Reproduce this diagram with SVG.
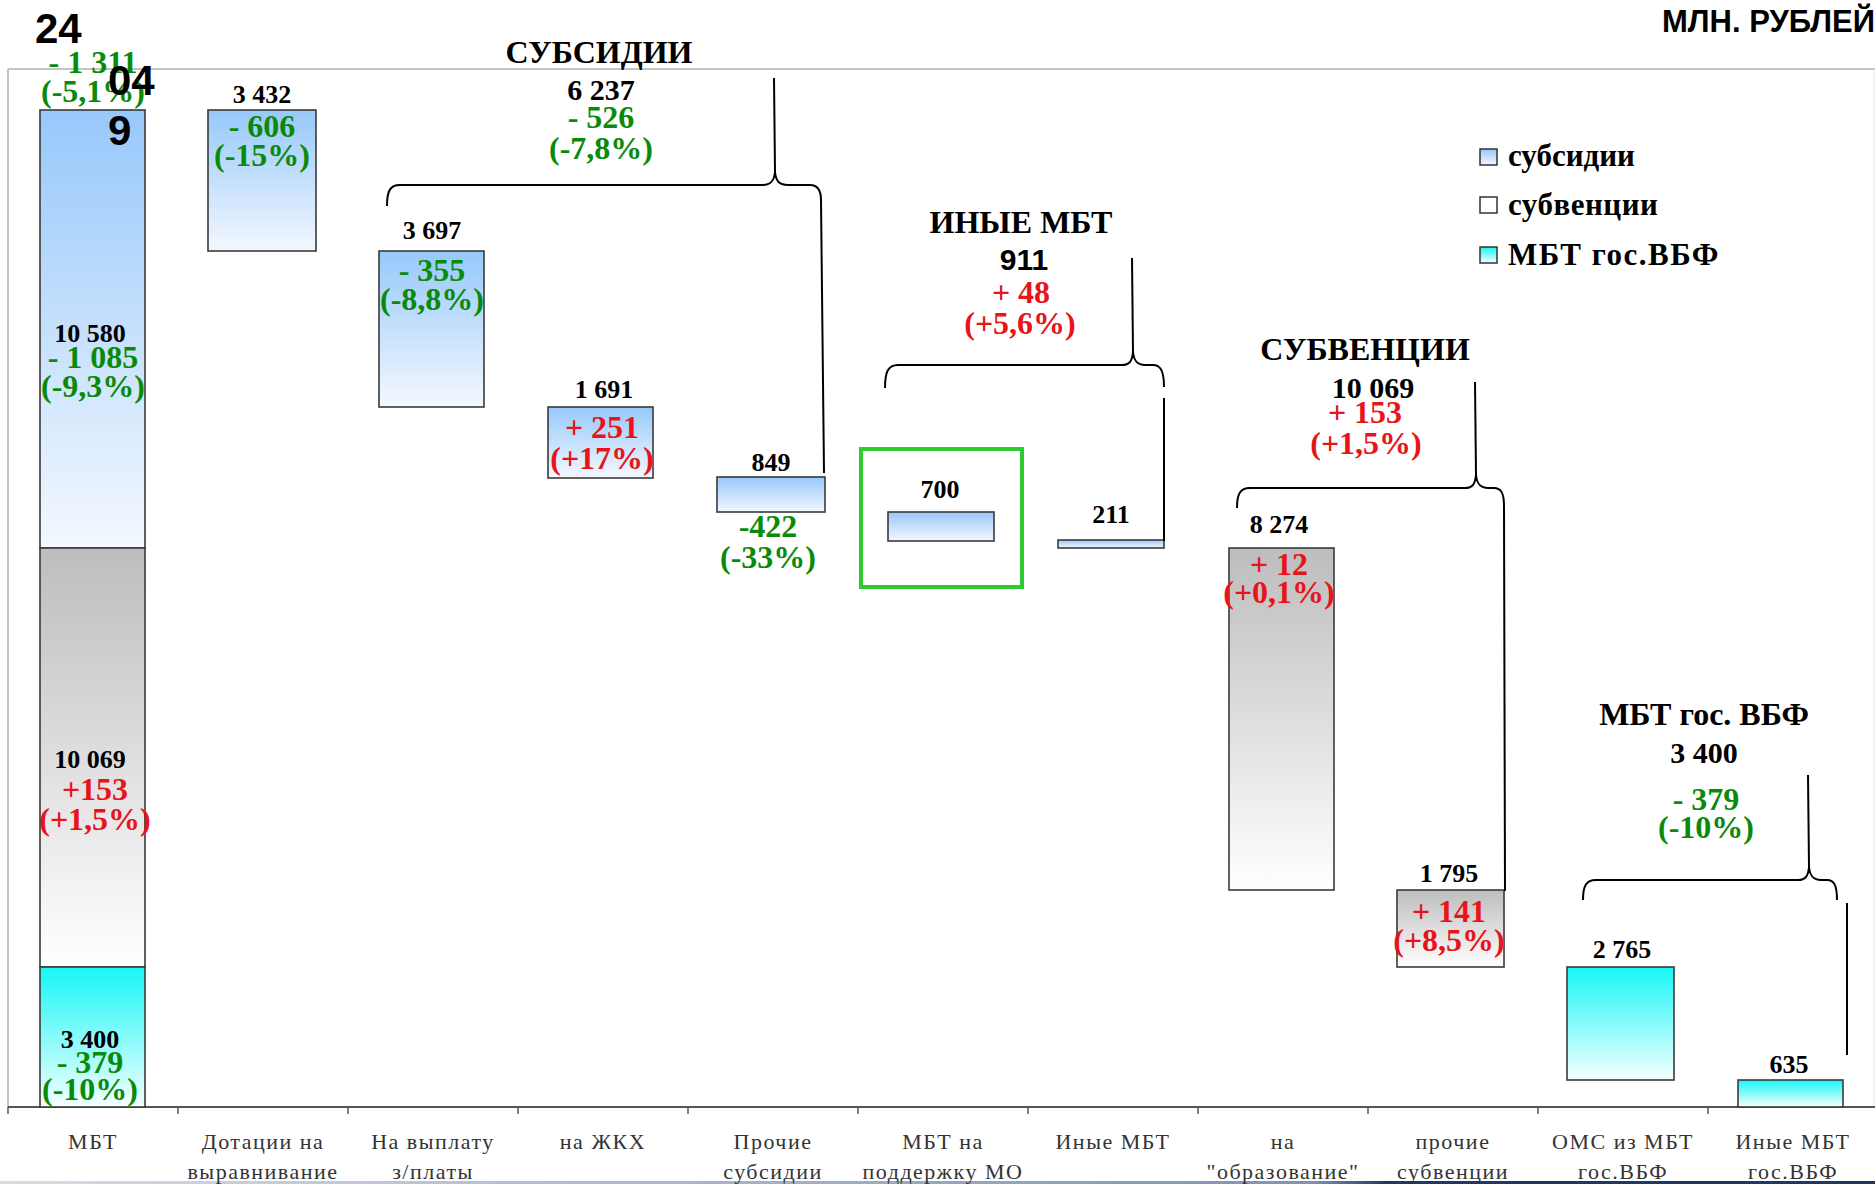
<svg xmlns="http://www.w3.org/2000/svg" width="1875" height="1184" viewBox="0 0 1875 1184">
<defs>
<linearGradient id="gBlue" x1="0" y1="0" x2="0" y2="1"><stop offset="0" stop-color="#97c8fa"/><stop offset="1" stop-color="#f4f8ff"/></linearGradient>
<linearGradient id="gGray" x1="0" y1="0" x2="0" y2="1"><stop offset="0" stop-color="#bdbdbd"/><stop offset="1" stop-color="#ffffff"/></linearGradient>
<linearGradient id="gCyan" x1="0" y1="0" x2="0" y2="1"><stop offset="0" stop-color="#18f6f6"/><stop offset="1" stop-color="#f6ffff"/></linearGradient>
<linearGradient id="gBottom" x1="0" y1="0" x2="1" y2="0"><stop offset="0" stop-color="#d6dce6"/><stop offset="0.7" stop-color="#7f93b3"/><stop offset="0.74" stop-color="#1f3864"/><stop offset="1" stop-color="#1f3864"/></linearGradient>
<style>
.bar{stroke:#3a3a3a;stroke-width:1.6}
.n{font-family:"Liberation Serif",serif;font-weight:bold;font-size:26px;fill:#000;text-anchor:middle}
.g{font-family:"Liberation Serif",serif;font-weight:bold;font-size:32px;fill:#0a8a0a;text-anchor:middle}
.r{font-family:"Liberation Serif",serif;font-weight:bold;font-size:32px;fill:#e8141a;text-anchor:middle}
.h{font-family:"Liberation Serif",serif;font-weight:bold;font-size:32px;fill:#000;text-anchor:middle}
.t{font-family:"Liberation Serif",serif;font-weight:bold;font-size:30px;fill:#000;text-anchor:middle}
.s{font-family:"Liberation Sans",Arial,sans-serif;font-weight:bold;fill:#000}
.c{font-family:"Liberation Serif",serif;font-size:22px;fill:#333;text-anchor:middle;letter-spacing:1.5px}
.lg{font-family:"Liberation Serif",serif;font-weight:bold;font-size:31px;fill:#000}
.br{fill:none;stroke:#000;stroke-width:2}
</style>
</defs>
<rect width="1875" height="1184" fill="#fff"/>
<g id="frame">
<line x1="8" y1="69" x2="1875" y2="69" stroke="#c4c4c4" stroke-width="2"/>
<line x1="8" y1="69" x2="8" y2="1107" stroke="#c4c4c4" stroke-width="2"/>
<line x1="1874" y1="69" x2="1874" y2="1107" stroke="#e6e6e6" stroke-width="1"/>
<line x1="8" y1="1107" x2="1875" y2="1107" stroke="#555" stroke-width="2"/>
<path d="M8,1107V1114M178,1107V1114M348,1107V1114M518,1107V1114M688,1107V1114M858,1107V1114M1028,1107V1114M1198,1107V1114M1368,1107V1114M1538,1107V1114M1708,1107V1114" stroke="#555" stroke-width="1.5"/>
<rect x="0" y="1181" width="1875" height="3" fill="url(#gBottom)"/>
</g>
<text class="s" x="35" y="43" font-size="42">24</text>
<text class="s" x="1662" y="32" font-size="31">МЛН. РУБЛЕЙ</text>
<g id="node-mbt">
<rect class="bar" x="40" y="110" width="105" height="438" fill="url(#gBlue)"/>
<rect class="bar" x="40" y="548" width="105" height="419" fill="url(#gGray)"/>
<rect class="bar" x="40" y="967" width="105" height="140" fill="url(#gCyan)"/>
<text class="g" x="93" y="73">- 1 311</text>
<text class="g" x="93" y="102">(-5,1%)</text>
<text class="s" x="108" y="95" font-size="42">04</text>
<text class="s" x="108" y="145" font-size="42">9</text>
<text class="n" x="90" y="342">10 580</text>
<text class="g" x="93" y="368">- 1 085</text>
<text class="g" x="93" y="397">(-9,3%)</text>
<text class="n" x="90" y="768">10 069</text>
<text class="r" x="95" y="800">+153</text>
<text class="r" x="95" y="830">(+1,5%)</text>
<text class="n" x="90" y="1048">3 400</text>
<text class="g" x="90" y="1073">- 379</text>
<text class="g" x="90" y="1100">(-10%)</text>
</g>
<g id="node-dotacii">
<rect class="bar" x="208" y="110" width="108" height="141" fill="url(#gBlue)"/>
<text class="n" x="262" y="103">3 432</text>
<text class="g" x="262" y="137">- 606</text>
<text class="g" x="262" y="166">(-15%)</text>
</g>
<g id="node-zplaty">
<rect class="bar" x="379" y="251" width="105" height="156" fill="url(#gBlue)"/>
<text class="n" x="432" y="239">3 697</text>
<text class="g" x="432" y="281">- 355</text>
<text class="g" x="432" y="310">(-8,8%)</text>
</g>
<g id="node-zhkh">
<rect class="bar" x="548" y="407" width="105" height="71" fill="url(#gBlue)"/>
<text class="n" x="604" y="398">1 691</text>
<text class="r" x="602" y="438">+ 251</text>
<text class="r" x="602" y="469">(+17%)</text>
</g>
<g id="node-prochie-subsidii">
<rect class="bar" x="717" y="477" width="108" height="35" fill="url(#gBlue)"/>
<text class="n" x="771" y="471">849</text>
<text class="g" x="768" y="537">-422</text>
<text class="g" x="768" y="568">(-33%)</text>
</g>
<g id="node-podderzhka">
<rect x="861" y="449" width="161" height="138" fill="none" stroke="#2ecc2e" stroke-width="4"/>
<rect class="bar" x="888" y="512" width="106" height="29" fill="url(#gBlue)"/>
<text class="n" x="940" y="498">700</text>
</g>
<g id="node-inye-mbt">
<rect class="bar" x="1058" y="540" width="106" height="8" fill="url(#gBlue)"/>
<text class="n" x="1111" y="523">211</text>
</g>
<g id="node-obrazovanie">
<rect class="bar" x="1229" y="548" width="105" height="342" fill="url(#gGray)"/>
<text class="n" x="1279" y="533">8 274</text>
<text class="r" x="1279" y="575">+ 12</text>
<text class="r" x="1279" y="603">(+0,1%)</text>
</g>
<g id="node-prochie-subvencii">
<rect class="bar" x="1397" y="890" width="107" height="77" fill="url(#gGray)"/>
<text class="n" x="1449" y="882">1 795</text>
<text class="r" x="1449" y="922">+ 141</text>
<text class="r" x="1449" y="951">(+8,5%)</text>
</g>
<g id="node-oms">
<rect class="bar" x="1567" y="967" width="107" height="113" fill="url(#gCyan)"/>
<text class="n" x="1622" y="958">2 765</text>
</g>
<g id="node-inye-vbf">
<rect class="bar" x="1738" y="1080" width="105" height="27" fill="url(#gCyan)"/>
<text class="n" x="1789" y="1073">635</text>
</g>
<g id="head-subsidii">
<text class="h" x="599" y="63">СУБСИДИИ</text>
<text class="t" x="601" y="100">6 237</text>
<text class="g" x="601" y="128">- 526</text>
<text class="g" x="601" y="159">(-7,8%)</text>
</g>
<g id="head-inye">
<text class="h" x="1021" y="233">ИНЫЕ МБТ</text>
<text class="s" x="1024" y="270" font-size="30" text-anchor="middle">911</text>
<text class="r" x="1021" y="303">+ 48</text>
<text class="r" x="1020" y="334">(+5,6%)</text>
</g>
<g id="head-subvencii">
<text class="h" x="1365" y="360">СУБВЕНЦИИ</text>
<text class="t" x="1373" y="398">10 069</text>
<text class="r" x="1365" y="423">+ 153</text>
<text class="r" x="1366" y="454">(+1,5%)</text>
</g>
<g id="head-vbf">
<text class="h" x="1704" y="725">МБТ гос. ВБФ</text>
<text class="t" x="1704" y="763">3 400</text>
<text class="g" x="1706" y="810">- 379</text>
<text class="g" x="1706" y="838">(-10%)</text>
</g>
<g id="connectors">
<path class="br" d="M387,206 C387,191 390,185 400,185 L763,185 C770,185 774,182 775,172 C776,182 780,185 788,185 L810,185 C817,185 821,190 821,200 L824,473"/>
<path class="br" d="M775,172 L774,78"/>
<path class="br" d="M885,388 C885,372 888,365 898,365 L1122,365 C1129,365 1132,362 1133,352 C1134,362 1138,365 1145,365 L1153,365 C1160,365 1164,370 1164,387"/>
<path class="br" d="M1133,352 L1132,258"/>
<path class="br" d="M1164,398 L1164,541"/>
<path class="br" d="M1237,508 C1237,494 1240,488 1250,488 L1465,488 C1472,488 1475,485 1476,475 C1477,485 1481,488 1488,488 L1494,488 C1501,488 1504,493 1504,506 L1505,891"/>
<path class="br" d="M1476,475 L1475,382"/>
<path class="br" d="M1583,900 C1583,886 1586,880 1596,880 L1798,880 C1805,880 1808,877 1809,867 C1810,877 1814,880 1821,880 L1827,880 C1834,880 1837,885 1837,900"/>
<path class="br" d="M1809,867 L1808,775"/>
<path class="br" d="M1847,903 L1847,1055"/>
</g>
<g id="legend">
<rect x="1480" y="149" width="17" height="16" fill="url(#gBlue)" stroke="#333" stroke-width="1.5"/>
<text class="lg" x="1508" y="166">субсидии</text>
<rect x="1480" y="197" width="17" height="16" fill="#fff" stroke="#333" stroke-width="1.5"/>
<text class="lg" x="1508" y="215" letter-spacing="0.5">субвенции</text>
<rect x="1480" y="247" width="17" height="16" fill="url(#gCyan)" stroke="#333" stroke-width="1.5"/>
<text class="lg" x="1508" y="265" letter-spacing="1.5">МБТ гос.ВБФ</text>
</g>
<g id="categories">
<text class="c" x="93" y="1149">МБТ</text>
<text class="c" x="263" y="1149">Дотации на</text>
<text class="c" x="263" y="1179">выравнивание</text>
<text class="c" x="433" y="1149">На выплату</text>
<text class="c" x="433" y="1179">з/платы</text>
<text class="c" x="603" y="1149">на ЖКХ</text>
<text class="c" x="773" y="1149">Прочие</text>
<text class="c" x="773" y="1179">субсидии</text>
<text class="c" x="943" y="1149">МБТ на</text>
<text class="c" x="943" y="1179">поддержку МО</text>
<text class="c" x="1113" y="1149">Иные МБТ</text>
<text class="c" x="1283" y="1149">на</text>
<text class="c" x="1283" y="1179">"образование"</text>
<text class="c" x="1453" y="1149">прочие</text>
<text class="c" x="1453" y="1179">субвенции</text>
<text class="c" x="1623" y="1149">ОМС из МБТ</text>
<text class="c" x="1623" y="1179">гос.ВБФ</text>
<text class="c" x="1793" y="1149">Иные МБТ</text>
<text class="c" x="1793" y="1179">гос.ВБФ</text>
</g>
</svg>
